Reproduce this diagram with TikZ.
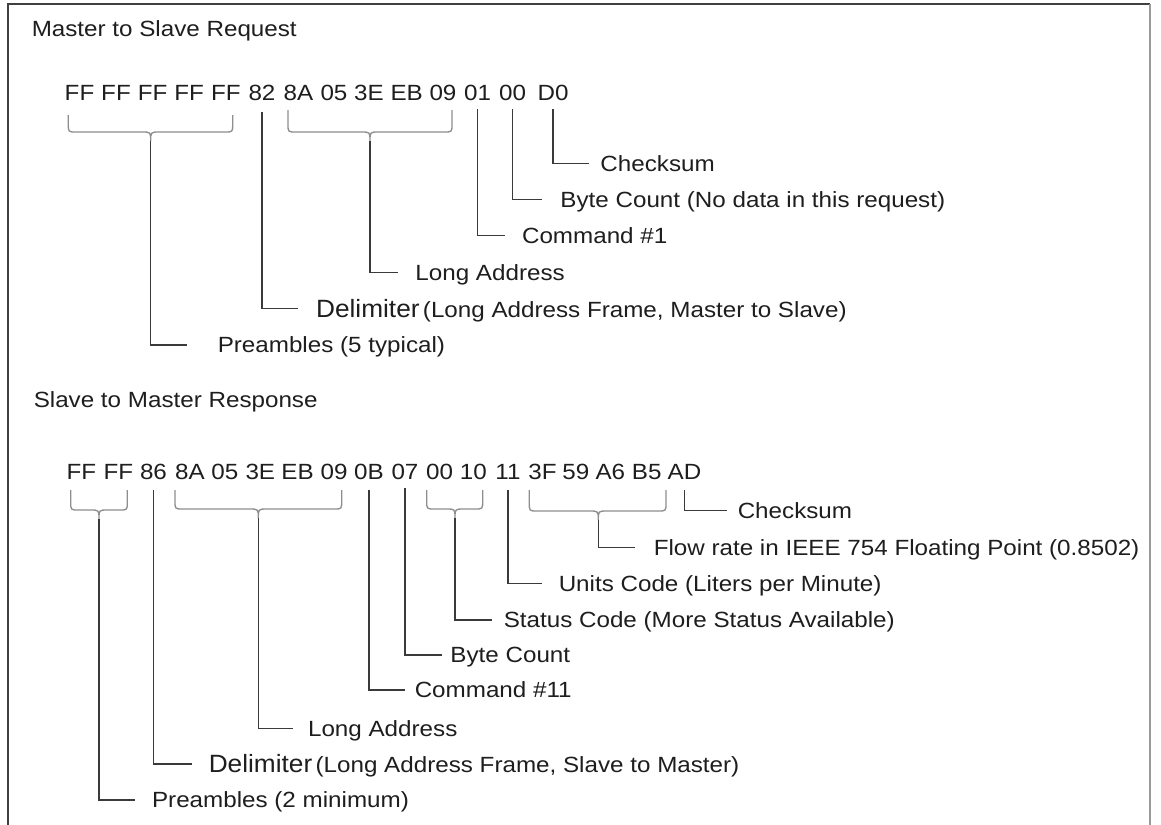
\documentclass[tikz,border=0pt]{standalone}
\usepackage{fontspec}
\setmainfont{Liberation Sans}
\usetikzlibrary{calc}
\definecolor{ink}{HTML}{1E1E1E}
\definecolor{lead}{HTML}{3A3A3A}
\definecolor{brc}{HTML}{8E8E8E}
\definecolor{frm}{HTML}{404040}
\definecolor{frmr}{HTML}{9A9A9A}
\newcommand\lblfont{\fontsize{16.5pt}{19pt}\selectfont}
\newcommand\dlmfont{\fontsize{18.75pt}{21pt}\selectfont}
\newcommand\sx[1]{\scalebox{1.1}[1]{#1}}
\newcommand\hbr[5]{\draw[bracestyle] (#1,#4) -- (#1,{#5-8}) .. controls (#1,#5) .. ({#1+8},#5) -- ({#3-9},#5) .. controls (#3,#5) .. (#3,{#5+9}) .. controls (#3,#5) .. ({#3+9},#5) -- ({#2-8},#5) .. controls (#2,#5) .. (#2,{#5-8}) -- (#2,#4);}
\tikzset{
  txt/.style={inner sep=0pt, text=ink, font=\lblfont, text height=11.8pt, text depth=0pt},
  hex/.style={txt, anchor=base},
  lbl/.style={txt, anchor=west},
  dlm/.style={text height=13.4pt},
  ttl/.style={txt, anchor=base west},
  leader/.style={draw=lead, line width=1.1pt},
  bracestyle/.style={draw=brc, line width=1pt},
}
\begin{document}
\begin{tikzpicture}[x=0.75pt,y=-0.75pt]
\fill[white] (0,0) rectangle (1161,825);
\useasboundingbox (0,0) rectangle (1161,825);
% frame
\draw[draw=frm, line width=1.5pt] (8,825) -- (8,4) -- (1150,4);
\draw[draw=frmr, line width=1pt] (1150,4) -- (1150,825);

% ---------- Master to Slave Request ----------
\node[ttl] (t1) at (31.5,36) {\sx{Master to Slave Request}};
\foreach \t/\x [count=\i] in {FF/79.5,FF/116,FF/152.6,FF/189.2,FF/225.8,82/262,8A/298.5,05/334,3E/369,EB/406.7,09/443,01/477.5,00/512.5,D0/553}
  \node[hex] (r1b\i) at (\x,100) {\sx{\t}};

\hbr{68.3}{232.7}{150.7}{115}{132}
\hbr{288}{452}{370}{110}{132}
\coordinate (tA) at (150.7,141);
\coordinate (tB) at (370,141);

\node[lbl] (L1) at (600.2,163.3) {\sx{Checksum}};
\node[lbl] (L2) at (560.2,199.3) {\sx{Byte Count (No data in this request)}};
\node[lbl] (L3) at (521.8,235.7) {\sx{Command \#1}};
\node[lbl] (L4) at (415.2,272.3) {\sx{Long Address}};
\node[lbl,dlm] (L5) at (315.8,308.3) {\scalebox{1.05}[1]{\dlmfont Delimiter}\hspace{2.5pt}\sx{(Long Address Frame, Master to Slave)}};
\node[lbl] (L6) at (217.5,345) {\sx{Preambles (5 typical)}};

\draw[leader] ($(r1b14.south)+(0,9)$) |- ($(L1.west)+(-10.9,0)$);
\draw[leader] ($(r1b13.south)+(0,9)$) |- ($(L2.west)+(-18.5,0)$);
\draw[leader] ($(r1b12.south)+(0,9)$) |- ($(L3.west)+(-16.8,0)$);
\draw[leader] (tB) |- ($(L4.west)+(-16.9,0)$);
\draw[leader] ($(r1b6.south)+(0,12)$) |- ($(L5.west)+(-18.1,0)$);
\draw[leader] (tA) |- ($(L6.west)+(-30.2,0)$);

% ---------- Slave to Master Response ----------
\node[ttl] (t2) at (33.5,407) {\sx{Slave to Master Response}};
\foreach \t/\x [count=\i] in {FF/81.3,FF/118.3,86/153.5,8A/190,05/224.8,3E/260.3,EB/297.5,09/334.2,0B/369,07/405,00/439.5,10/473.3,11/508,3F/542.5,59/575.8,A6/610.3,B5/646.7,AD/684.5}
  \node[hex] (r2b\i) at (\x,479) {\sx{\t}};

\hbr{70.7}{127.3}{99}{490}{510}
\hbr{175}{341.7}{258.3}{490}{509}
\hbr{426.7}{482.7}{455}{490}{509}
\hbr{529.3}{666}{598.3}{490}{511}
\coordinate (tC) at (99,519);
\coordinate (tD) at (258.3,518);
\coordinate (tE) at (455,518);
\coordinate (tF) at (598.3,520);

\node[lbl] (M1) at (737.5,510.7) {\sx{Checksum}};
\node[lbl] (M2) at (653.5,547.3) {\sx{Flow rate in IEEE 754 Floating Point (0.8502)}};
\node[lbl] (M3) at (558.5,583.3) {\sx{Units Code (Liters per Minute)}};
\node[lbl] (M4) at (503.5,620) {\sx{Status Code (More Status Available)}};
\node[lbl] (M5) at (450.2,655) {\sx{Byte Count}};
\node[lbl] (M6) at (414.5,690) {\sx{Command \#11}};
\node[lbl] (M7) at (307.8,728.3) {\sx{Long Address}};
\node[lbl,dlm] (M8) at (208.5,764) {\scalebox{1.05}[1]{\dlmfont Delimiter}\hspace{2.5pt}\sx{(Long Address Frame, Slave to Master)}};
\node[lbl] (M9) at (151.8,800) {\sx{Preambles (2 minimum)}};

\draw[leader] ($(r2b18.south)+(0,11)$) |- ($(M1.west)+(-10.8,0)$);
\draw[leader] (tF) |- ($(M2.west)+(-18.5,0)$);
\draw[leader] ($(r2b13.south)+(0,11)$) |- ($(M3.west)+(-16.8,0)$);
\draw[leader] (tE) |- ($(M4.west)+(-11.8,0)$);
\draw[leader] ($(r2b10.south)+(0,9)$) |- ($(M5.west)+(-8.5,0)$);
\draw[leader] ($(r2b9.south)+(0,11)$) |- ($(M6.west)+(-9.5,0)$);
\draw[leader] (tD) |- ($(M7.west)+(-15.1,0)$);
\draw[leader] ($(r2b3.south)+(0,11)$) |- ($(M8.west)+(-16.8,0)$);
\draw[leader] (tC) |- ($(M9.west)+(-16.8,0)$);
\end{tikzpicture}
\end{document}
